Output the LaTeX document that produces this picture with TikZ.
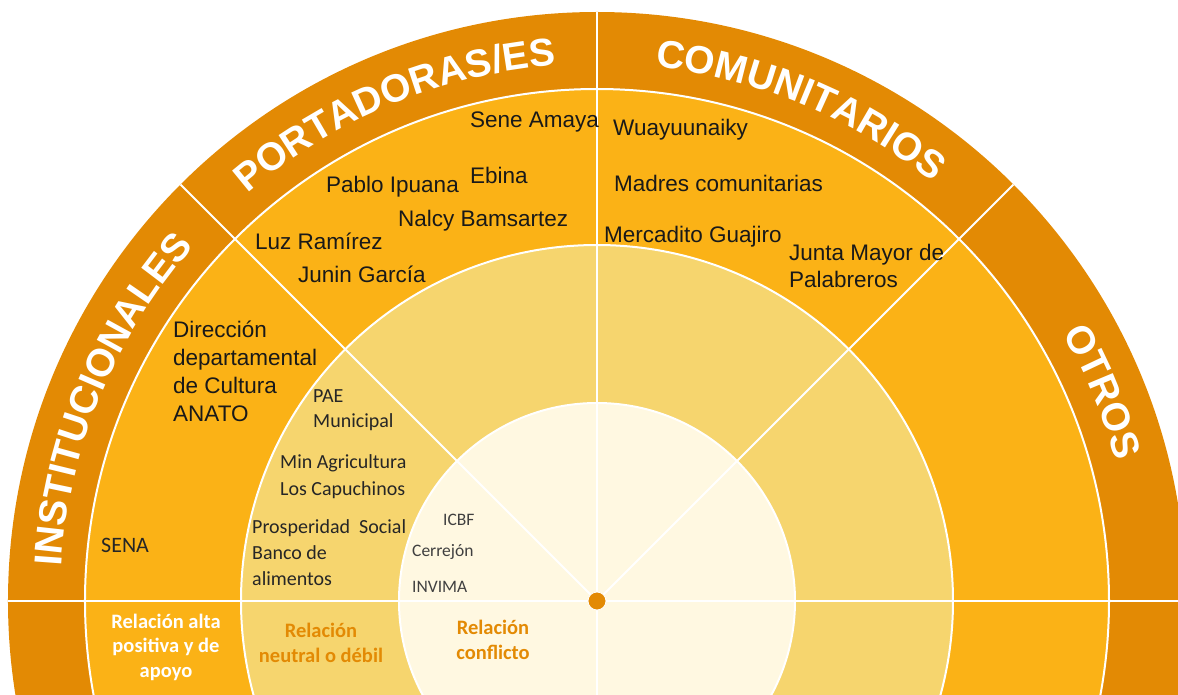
\documentclass[tikz,border=0pt]{standalone}
\usepackage{fontspec}
\setmainfont{Liberation Sans}
\newfontfamily\calfont{Carlito}
\usetikzlibrary{decorations.text}
\definecolor{hdrorange}{HTML}{E38A04}
\definecolor{ringorange}{HTML}{FBB216}
\definecolor{midyellow}{HTML}{F6D56E}
\definecolor{innercream}{HTML}{FFF8E1}
\newcommand{\headlabel}[3]{%
  \path[decorate,decoration={text along path,text align=center,
    text={|\fontsize{39}{39}\selectfont\bfseries\color{white}|#3}}]
    (#1:537) arc[start angle=#1,end angle=#2,radius=537];
}
\tikzset{
  sep/.style={white,line width=2pt},
  actor/.style={anchor=base west,inner sep=0pt,align=left,text=black!90,
    font=\fontsize{22.5}{27.5}\selectfont},
  minor/.style={anchor=base west,inner sep=0pt,align=left,text=black!85,
    font=\calfont\fontsize{20}{26}\selectfont},
  faint/.style={anchor=base west,inner sep=0pt,text=black!75,
    font=\calfont\fontsize{17.5}{20}\selectfont},
  relation/.style={align=center,inner sep=0pt,
    font=\calfont\bfseries\fontsize{20.5}{24.5}\selectfont}
}

\begin{document}
\begin{tikzpicture}[x=1pt,y=1pt]
  \useasboundingbox (-597,-93) rectangle (581,601);
  \clip (-597,-93) rectangle (581,601);
  % rings
  \fill[hdrorange] (0,0) circle (589);
  \fill[ringorange] (0,0) circle (512);
  \fill[midyellow] (0,0) circle (356);
  \fill[innercream] (0,0) circle (198);
  \foreach \r in {512,356,198}{
    \draw[sep] (0,0) circle (\r);
  }
  \foreach \a in {45,90,135}{
    \draw[sep] (0,0) -- (\a:589);
  }
  \draw[sep] (-589,0) -- (589,0);
  \draw[sep] (0,0) -- (0,-100);
  \fill[hdrorange,draw=white,line width=0.8pt] (0,0) circle (9);
  % sector titles
  \headlabel{180}{135}{INSTITUCIONALES}
  \headlabel{135}{90}{PORTADORAS/ES}
  \headlabel{90}{45}{COMUNITARIOS}
  \headlabel{45}{0}{OTROS}
  % portadoras
  \node[actor] (sene) at (-127,473) {Sene Amaya};
  \node[actor] (ebina) at (-127,417) {Ebina};
  \node[actor] (pablo) at (-271,408) {Pablo Ipuana};
  \node[actor] (nalcy) at (-199,374) {Nalcy Bamsartez};
  \node[actor] (luz) at (-342,351) {Luz Ramírez};
  \node[actor] (junin) at (-299,318) {Junin García};
  % comunitarios
  \node[actor] (wuayuu) at (16,465) {Wuayuunaiky};
  \node[actor] (madres) at (17,409) {Madres comunitarias};
  \node[actor] (mercadito) at (7,358) {Mercadito Guajiro};
  \node[actor] (junta) at (192,313) {Junta Mayor de\\Palabreros};
  % institucionales
  \node[actor,font=\fontsize{22.5}{27.7}\selectfont] (cultura) at (-424,180)
    {Dirección\\departamental\\de Cultura\\ANATO};
  \node[minor,font=\calfont\fontsize{22}{26}\selectfont] (sena) at (-496,49) {SENA};
  \node[minor,font=\calfont\fontsize{20}{25}\selectfont] (pae) at (-284,174) {PAE\\Municipal};
  \node[minor,font=\calfont\fontsize{20}{27}\selectfont] (agri) at (-317,106) {Min Agricultura\\Los Capuchinos};
  \node[minor] (prosp) at (-345,16) {Prosperidad\ \ Social\\Banco de\\alimentos};
  \node[faint] (icbf) at (-154,76) {ICBF};
  \node[faint] (cerrejon) at (-185,45) {Cerrejón};
  \node[faint] (invima) at (-185,9) {INVIMA};
  % legend
  \node[relation,text=white] (alta) at (-431,-46) {Relación alta\\positiva y de\\apoyo};
  \node[relation,text=hdrorange] (neutral) at (-276,-42) {Relación\\neutral o débil};
  \node[relation,text=hdrorange] (conflicto) at (-104,-39) {Relación\\conflicto};
\end{tikzpicture}
\end{document}
